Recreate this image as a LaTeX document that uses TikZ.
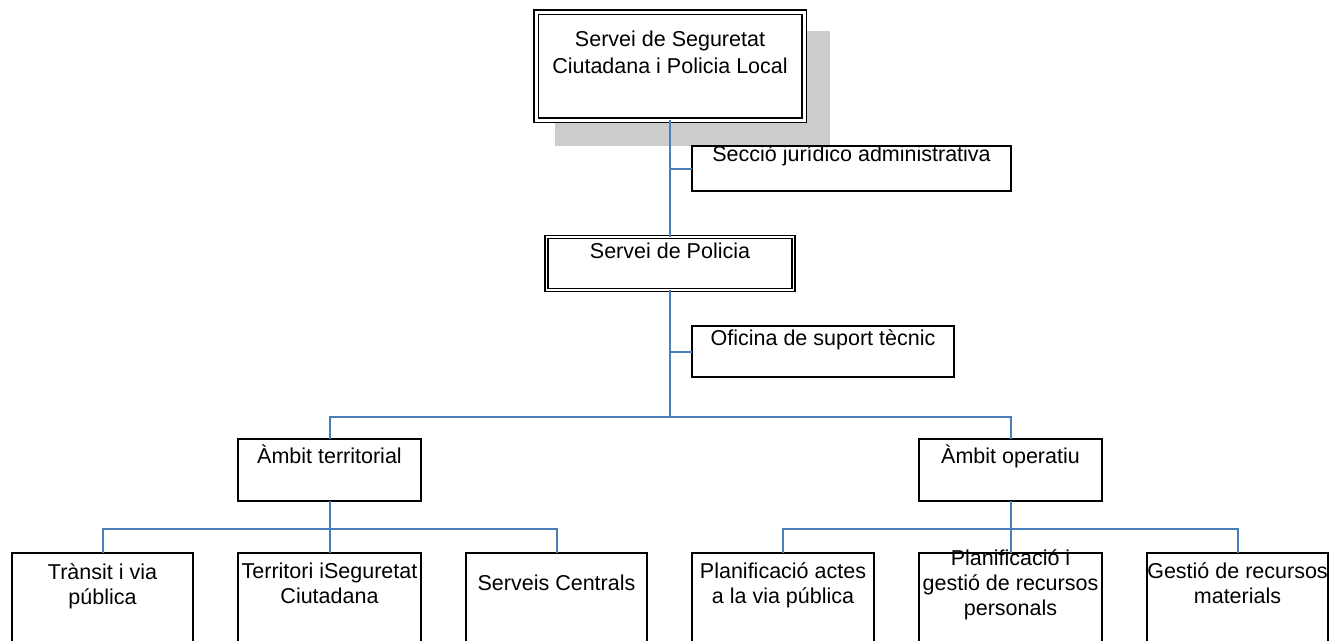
\documentclass[tikz,border=0pt]{standalone}
\usepackage{fontspec}
\setmainfont{Liberation Sans}
\usepackage{xcolor}
\usepackage{tikz}

\definecolor{linkblue}{RGB}{74,126,187}
\definecolor{shadowgray}{RGB}{204,204,204}

\begin{document}
\begin{tikzpicture}[x=1pt,y=-1pt,
  unit/.style={draw=black, fill=white, line width=1.6pt, inner sep=0pt, outer sep=0pt, anchor=north west},
  headunit/.style={unit, double, double distance=#1, line width=1.4pt},
  caption/.style={font=\fontsize{21.5}{25}\selectfont, align=center, inner sep=0pt, anchor=north,
    execute at begin node={\rule{0pt}{21pt}}},
  link/.style={draw=linkblue, line width=2pt}]
\useasboundingbox (0,0) rectangle (1332,640);
\clip (0,0) rectangle (1332,640);

\fill[shadowgray] (555,31) rectangle (830,146);

    \node[headunit=3pt, minimum width=268, minimum height=108] (ssc) at (536,12) {};
    \node[unit, minimum width=319, minimum height=45] (secc) at (692,146) {};
    \node[headunit=1.5pt, minimum width=247, minimum height=53] (spol) at (546.5,237) {};
    \node[unit, minimum width=262, minimum height=51] (ofic) at (692,326) {};
    \node[unit, minimum width=183, minimum height=62] (terr) at (238,439) {};
    \node[unit, minimum width=183, minimum height=62] (oper) at (919,439) {};
    \node[unit, minimum width=181, minimum height=120] (trans) at (12,553) {};
    \node[unit, minimum width=183, minimum height=120] (terrseg) at (238,553) {};
    \node[unit, minimum width=181, minimum height=120] (centr) at (466,553) {};
    \node[unit, minimum width=182, minimum height=120] (plact) at (692,553) {};
    \node[unit, minimum width=183, minimum height=120] (plpers) at (919,553) {};
    \node[unit, minimum width=181, minimum height=120] (gest) at (1147,553) {};

    \node[caption] (ssct) at ([yshift=-19pt]ssc.north) {Servei de Seguretat\\[1.7pt]Ciutadana i Policia Local};
    \node[caption] (secct) at ([yshift=5.3pt]secc.north) {Secció jurídico administrativa};
    \node[caption] (spolt) at (spol.north) {Servei de Policia};
    \node[caption] (ofict) at ([yshift=2pt]ofic.north) {Oficina de suport tècnic};
    \node[caption] (terrt) at ([yshift=-3.3pt]terr.north) {Àmbit territorial};
    \node[caption] (opert) at ([yshift=-3.3pt]oper.north) {Àmbit operatiu};
    \node[caption] (transt) at ([yshift=-10pt]trans.north) {Trànsit i via\\pública};
    \node[caption] (terrsegt) at ([yshift=-10pt]terrseg.north) {Territori iSeguretat\\Ciutadana};
    \node[caption] (centrt) at ([yshift=-16pt]centr.north) {Serveis Centrals};
    \node[caption] (plactt) at ([yshift=-9pt]plact.north) {Planificació actes\\a la via pública};
    \node[caption] (plperst) at ([yshift=4pt]plpers.north) {Planificació i\\gestió de recursos\\personals};
    \node[caption] (gestt) at ([yshift=-9pt]gest.north) {Gestió de recursos\\materials};

    \coordinate (bus1) at (670,417);
    \coordinate (bus2) at (329.5,529);
    \coordinate (bus3) at (1010.5,529);

    % draw the connectors
    \draw[link] (ssc.south) -- (spol.north);
    \draw[link] (secc.west) -- (secc.west -| ssc.south);
    \draw[link] (spol.south) -- (bus1);
    \draw[link] (ofic.west) -- (ofic.west -| spol.south);
    \draw[link] (terr.north) |- (bus1) -| (oper.north);
    \draw[link] (terr.south) -- (terrseg.north);
    \draw[link] (trans.north) |- (bus2) -| (centr.north);
    \draw[link] (oper.south) -- (plpers.north);
    \draw[link] (plact.north) |- (bus3) -| (gest.north);

\end{tikzpicture}
\end{document}
